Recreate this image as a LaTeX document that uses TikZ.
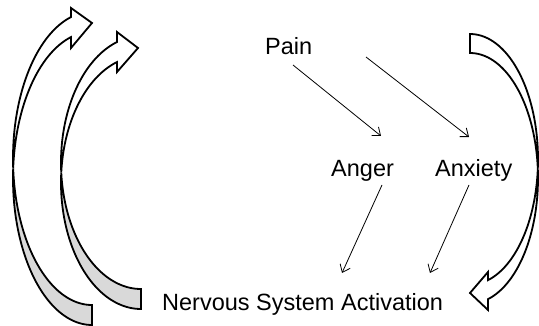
\documentclass[tikz,border=0pt]{standalone}
\usepackage{fontspec}
\setmainfont{Liberation Sans}
\usetikzlibrary{arrows.meta}
\definecolor{backgray}{HTML}{D9D9D9}
\tikzset{
  lbl/.style={inner sep=0pt, anchor=base west, font=\fontsize{23.5}{28}\selectfont},
  thinarrow/.style={-{Straight Barb[length=7pt,width=11pt]}, line width=0.8pt},
  blockline/.style={draw=black, line width=1.8pt, line join=miter},
  backside/.style={blockline, fill=backgray},
  frontside/.style={blockline, fill=white}
}
\begin{document}
\begin{tikzpicture}[x=1pt,y=-1pt]
\useasboundingbox (0,0) rectangle (539,326);
\fill[white] (0,0) rectangle (539,326);

% --- left outer curved arrow (arrow 1) ---
\path[backside] (92,305) -- plot[domain=90:183.91, samples=70, variable=\t] ({92+79*cos(\t)},{178.4+146.6*sin(\t)})
  -- plot[domain=176.09:90, samples=70, variable=\t] ({92+79*cos(\t)},{158.4+146.6*sin(\t)}) -- cycle;
\path[frontside] plot[domain=176.09:254.6, samples=70, variable=\t] ({92+79*cos(\t)},{158.4+146.6*sin(\t)})
  -- (71,8) -- (92,23) -- (71,48)
  -- plot[domain=254.6:183.91, samples=70, variable=\t] ({92+79*cos(\t)},{178.4+146.6*sin(\t)}) -- cycle;

% --- left inner curved arrow (arrow 2) ---
\path[backside] (141,289) -- plot[domain=90:184.54, samples=70, variable=\t] ({141+80*cos(\t)},{182.6+126.4*sin(\t)})
  -- plot[domain=175.46:90, samples=70, variable=\t] ({141+80*cos(\t)},{162.6+126.4*sin(\t)}) -- cycle;
\path[frontside] plot[domain=175.46:252.54, samples=70, variable=\t] ({141+80*cos(\t)},{162.6+126.4*sin(\t)})
  -- (117,32) -- (138,48) -- (117,72)
  -- plot[domain=252.54:184.54, samples=70, variable=\t] ({141+80*cos(\t)},{182.6+126.4*sin(\t)}) -- cycle;

% --- right curved arrow ---
\path[frontside] plot[domain=-90:74.65, samples=100, variable=\t] ({470+68*cos(\t)},{159.3+125.3*sin(\t)})
  -- (488,272) -- (470,293) -- (488,310)
  -- plot[domain=74.65:-90, samples=100, variable=\t] ({470+68*cos(\t)},{178.3+125.3*sin(\t)}) -- cycle;

% --- labels ---
\node[lbl] (pain) at (265,55) {Pain};
\node[lbl] (anger) at (331,177) {Anger};
\node[lbl] (anxiety) at (435,177) {Anxiety};
\node[lbl] (nsa) at (162,311) {Nervous System Activation};

% --- connector end points ---
\coordinate (painA) at (293,65);
\coordinate (angerIn) at (381,136);
\coordinate (painB) at (366,57);
\coordinate (anxIn) at (469,137);
\coordinate (angerOut) at (382,185);
\coordinate (nsaA) at (342,273);
\coordinate (anxOut) at (469,185);
\coordinate (nsaB) at (430,273);

\draw[thinarrow] (painA) -- (angerIn);
\draw[thinarrow] (painB) -- (anxIn);
\draw[thinarrow] (angerOut) -- (nsaA);
\draw[thinarrow] (anxOut) -- (nsaB);
\end{tikzpicture}
\end{document}
